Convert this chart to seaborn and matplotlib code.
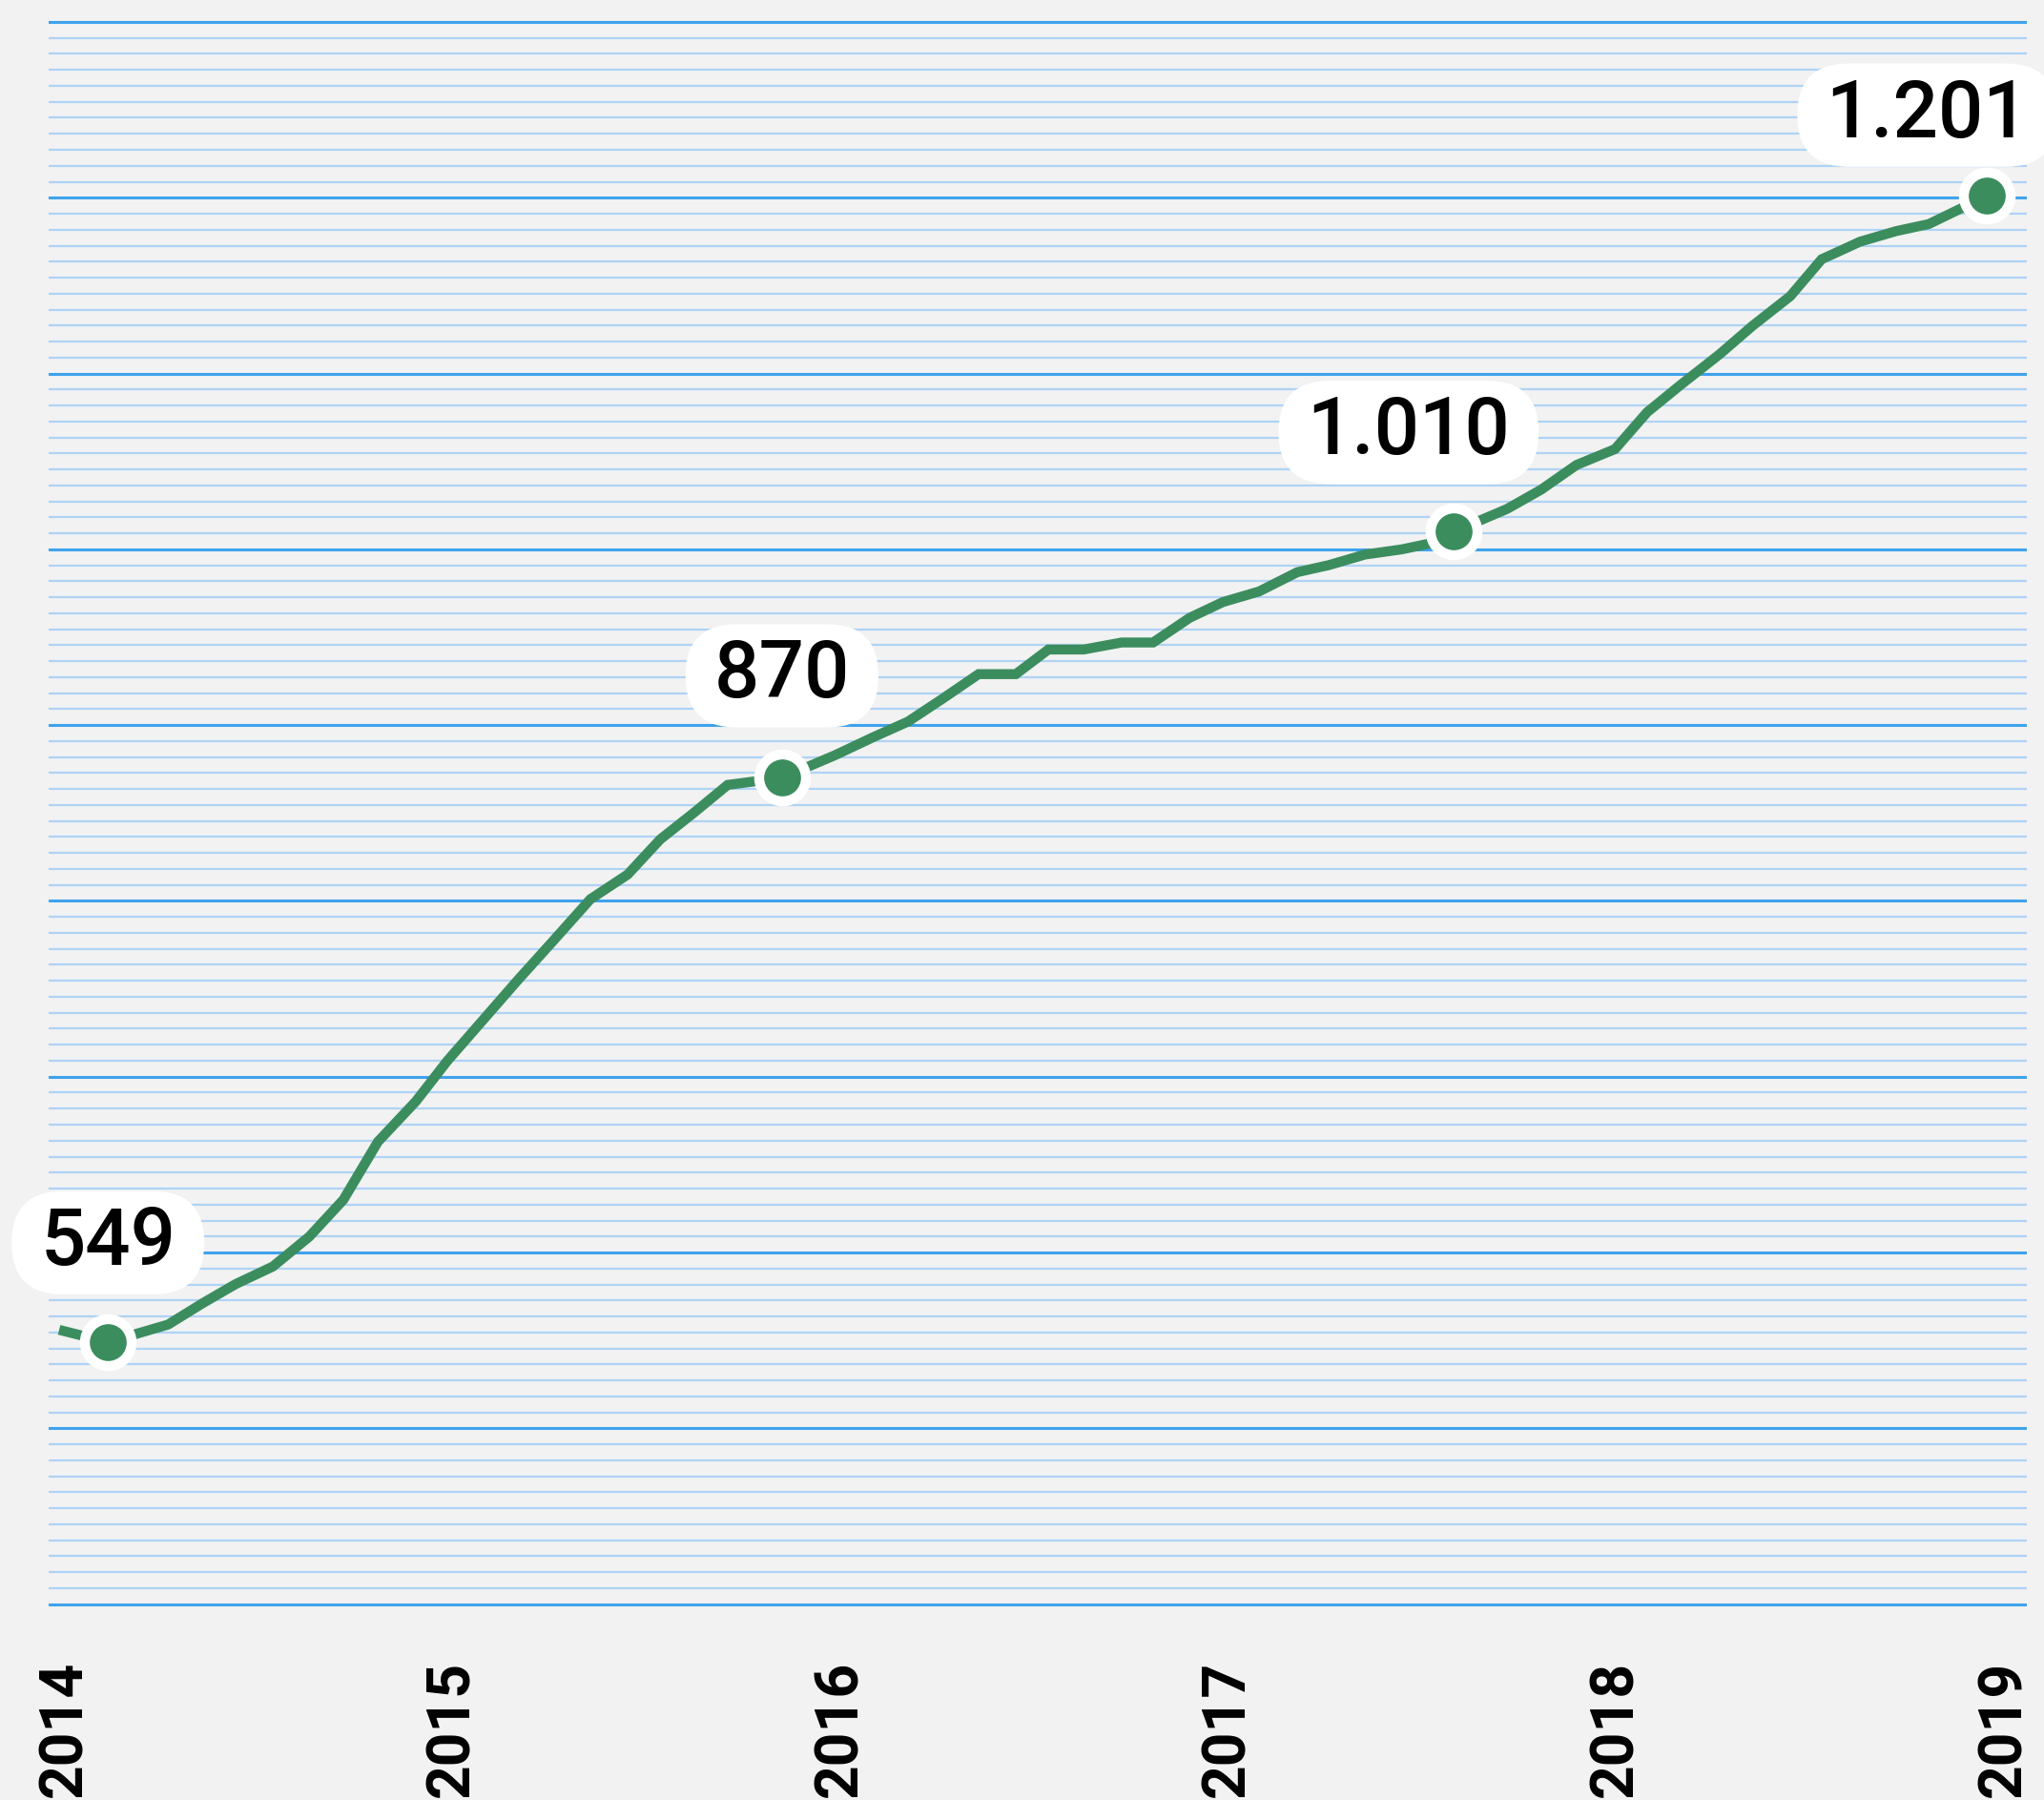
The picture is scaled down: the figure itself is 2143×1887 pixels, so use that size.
import numpy as np
import pandas as pd
import matplotlib
matplotlib.use("Agg")
import matplotlib.pyplot as plt
from matplotlib.ticker import FixedLocator
from matplotlib.patches import BoxStyle
from matplotlib.collections import PathCollection
import seaborn as sns

# ---------------- data ----------------
years = [2013.985, 2014.111, 2014.266, 2014.354, 2014.440, 2014.536, 2014.630, 2014.718, 2014.807, 2014.905,
         2014.986, 2015.077, 2015.168, 2015.262, 2015.355, 2015.451, 2015.535, 2015.621, 2015.709, 2015.849,
         2015.987, 2016.083, 2016.174, 2016.263, 2016.356, 2016.452, 2016.536, 2016.627, 2016.725, 2016.806,
         2016.900, 2016.986, 2017.079, 2017.178, 2017.259, 2017.352, 2017.448, 2017.534, 2017.581, 2017.719,
         2017.807, 2017.898, 2017.997, 2018.080, 2018.169, 2018.267, 2018.351, 2018.449, 2018.530, 2018.629,
         2018.722, 2018.806, 2018.956, 2019.027]
values = [556, 549, 559, 571, 582, 592, 609, 630, 663, 686,
          709, 732, 755, 778, 801, 815, 835, 850, 866, 870,
          883, 893, 902, 915, 929, 929, 943, 943, 947, 947,
          961, 970, 976, 987, 991, 997, 1000, 1004, 1010, 1023,
          1034, 1048, 1057, 1078, 1094, 1111, 1127, 1144, 1165, 1175,
          1181, 1185, 1201, 1204]

marker_years = [2014.111, 2015.849, 2017.581, 2018.956]
marker_values = [549, 870, 1010, 1201]

tick_years = [2014, 2015, 2016, 2017, 2018, 2019]
tick_labels = ["2014", "2015", "2016", "2017", "2018", "2019"]

# ---------------- style ----------------
BG = "#f2f2f2"
GREEN = "#3c8d5e"
MAJOR = "#3fa3ec"
MINOR = "#aed3f5"

sns.set_style("white", {"axes.facecolor": BG, "figure.facecolor": BG})
plt.rcParams["font.family"] = ["Roboto", "DejaVu Sans"]

W, H = 2143, 1887
fig = plt.figure(figsize=(W / 100, H / 100), dpi=100, facecolor=BG)
ax_left, ax_right = 51, 2125
ax_top, ax_bottom = 15.6, 1689
ax = fig.add_axes([ax_left / W, 1 - ax_bottom / H, (ax_right - ax_left) / W, (ax_bottom - ax_top) / H])
ax.set_facecolor(BG)

df = pd.DataFrame({"year": years, "value": values})
mk = pd.DataFrame({"year": marker_years, "value": marker_values})

LW = 7.5
sns.lineplot(data=df, x="year", y="value", ax=ax, color=GREEN, linewidth=LW,
             errorbar=None, zorder=3)
for ln in ax.lines:
    ln.set_linewidth(LW)
    ln.set_solid_capstyle("butt")
    ln.set_solid_joinstyle("miter")

MS = 1250
MEW = 7.5
sns.scatterplot(data=mk, x="year", y="value", ax=ax, color=GREEN, s=MS,
                edgecolor="white", linewidth=MEW, zorder=4, legend=False)
for coll in ax.collections:
    if isinstance(coll, PathCollection):
        coll.set_sizes([MS])
        coll.set_linewidths([MEW])
        coll.set_edgecolor("white")
        coll.set_zorder(4)

# axis limits / grid
ax.set_xlim(2013.958, 2019.059)
ax.set_ylim(396, 1304)
major = list(range(400, 1301, 100))
minor = [400 + 100 * k + 100 * j / 11 for k in range(9) for j in range(1, 11)]
ax.yaxis.set_major_locator(FixedLocator(major))
ax.yaxis.set_minor_locator(FixedLocator(minor))
ax.set_axisbelow(True)
ax.grid(axis="y", which="major", color=MAJOR, linewidth=2.2, zorder=0)
ax.grid(axis="y", which="minor", color=MINOR, linewidth=1.6, zorder=0)
ax.grid(axis="x", visible=False)
ax.tick_params(axis="y", which="major", length=3, width=2.2, color="#2f98e4",
               labelleft=False, direction="out")
ax.tick_params(axis="y", which="minor", length=0, labelleft=False)
for s in ax.spines.values():
    s.set_visible(False)

ax.set_xticks(tick_years)
ax.set_xticklabels(tick_labels, rotation=90, fontsize=45, fontweight="bold",
                   color="black", ha="center", va="top")
ax.tick_params(axis="x", length=0, pad=37, labelcolor="black")
ax.set_xlabel("")
ax.set_ylabel("")


# pill-shaped label box with separate horizontal / vertical padding
def pill(x0, y0, width, height, mutation_size):
    padx = 0.36 * mutation_size
    pady = 0.17 * mutation_size
    x0, y0 = x0 - padx, y0 - pady
    width, height = width + 2 * padx, height + 2 * pady
    r = height / 2.0
    return BoxStyle.Round(pad=0, rounding_size=r)(x0, y0, width, height, 1.0)


offsets = [(0, 75), (0, 77), (-34, 75), (-45, 61)]
for (xv, yv), (dx, dy) in zip(zip(marker_years, marker_values), offsets):
    txt = f"{yv:,}".replace(",", ".")
    ax.annotate(txt, xy=(xv, yv), xytext=(dx, dy), textcoords="offset points",
                ha="center", va="center", fontsize=60, fontweight="medium",
                color="black", zorder=6, annotation_clip=False,
                bbox=dict(boxstyle=pill, fc="white", ec="none"))

fig.savefig("out.png", dpi=100, facecolor=BG)
